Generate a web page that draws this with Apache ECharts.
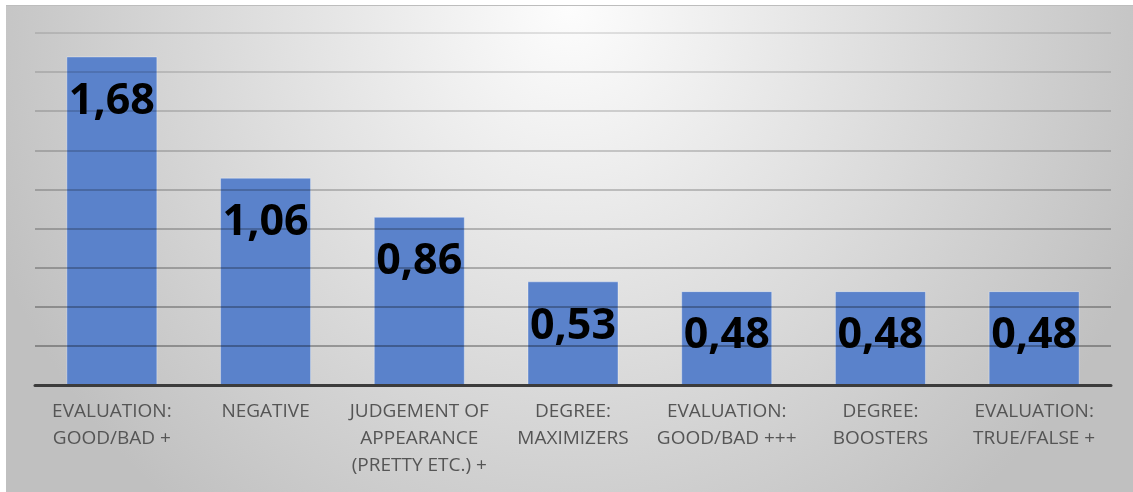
<!DOCTYPE html>
<html>
<head>
<meta charset="utf-8">
<script src="https://cdn.jsdelivr.net/npm/echarts@6/dist/echarts.min.js"></script>
<style>
  html, body { margin: 0; padding: 0; background: #ffffff; }
  #wrap { position: relative; width: 1133px; height: 492px; overflow: hidden; }
  #bg { position: absolute; left: 6px; top: 5px; right: 0; bottom: 0;
        border-top: 1px solid #bdbdbd;
        background: radial-gradient(ellipse 620px 650px at 50% 0%, #fdfdfd 0%, #c0c0c0 100%); }
  #chart { position: absolute; left: 0; top: 0; width: 1133px; height: 492px; }
</style>
</head>
<body>
<div id="wrap"><div id="bg"></div><div id="chart"></div></div>
<script>
const categories = [
  'EVALUATION:\nGOOD/BAD +',
  'NEGATIVE',
  'JUDGEMENT OF\nAPPEARANCE\n(PRETTY ETC.) +',
  'DEGREE:\nMAXIMIZERS',
  'EVALUATION:\nGOOD/BAD +++',
  'DEGREE:\nBOOSTERS',
  'EVALUATION:\nTRUE/FALSE +'
];
const values = [1.68, 1.06, 0.86, 0.53, 0.48, 0.48, 0.48];
const yTicks = { min: 0, max: 1.8, interval: 0.2 };

const chart = echarts.init(document.getElementById('chart'), null, { renderer: 'canvas' });
const fmt = p => p.value.toFixed(2).replace('.', ',');
chart.setOption({
  backgroundColor: 'transparent',
  animation: false,
  grid: { left: 35, right: 22, top: 33, bottom: 107 },
  xAxis: {
    type: 'category',
    data: categories,
    z: 6,
    axisLine: { show: true, lineStyle: { color: '#3c3c3c', width: 3 } },
    axisTick: { show: false },
    axisLabel: {
      interval: 0, margin: 13,
      fontFamily: 'Open Sans', fontSize: 19, lineHeight: 27,
      color: '#555555', align: 'center'
    }
  },
  yAxis: {
    type: 'value',
    min: yTicks.min, max: yTicks.max, interval: yTicks.interval,
    z: 5,
    axisLabel: { show: false },
    axisLine: { show: false },
    axisTick: { show: false },
    splitLine: {
      show: true,
      lineStyle: {
        width: 2,
        color: {
          type: 'linear', global: true, x: 0, y: 30, x2: 0, y2: 385,
          colorStops: [
            { offset: 0, color: 'rgba(0,0,0,0.10)' },
            { offset: 1, color: 'rgba(0,0,0,0.32)' }
          ]
        }
      }
    }
  },
  series: [
    {
      type: 'bar',
      data: values,
      z: 2,
      barWidth: 91,
      itemStyle: { color: '#5a82cb', borderColor: 'rgba(255,255,255,0.35)', borderWidth: 1 }
    },
    {
      type: 'bar',
      data: values,
      z: 10,
      barWidth: 91,
      barGap: '-100%',
      itemStyle: { color: 'rgba(0,0,0,0)' },
      label: {
        show: true,
        position: ['50%', 45],
        align: 'center',
        verticalAlign: 'middle',
        formatter: fmt,
        fontFamily: 'Open Sans',
        fontWeight: 'bold',
        fontSize: 43,
        color: '#000000'
      }
    }
  ]
});
</script>
</body>
</html>
